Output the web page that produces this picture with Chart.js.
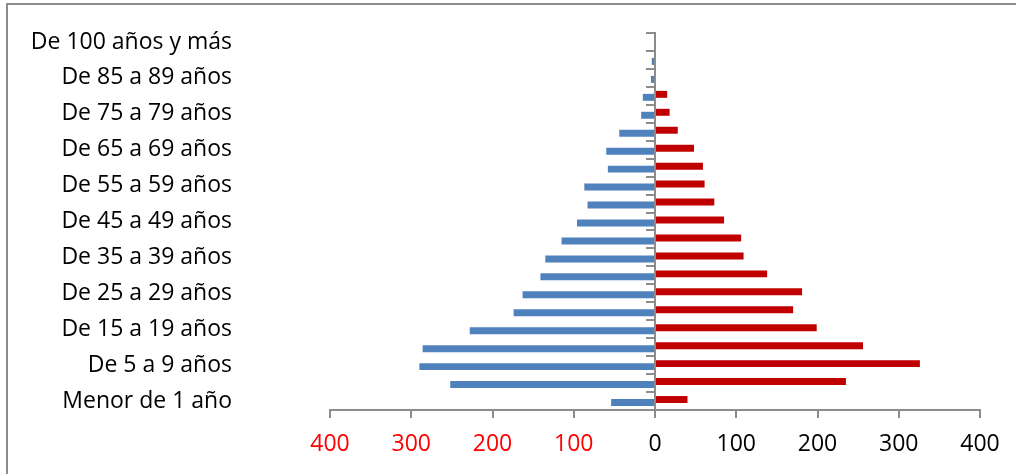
<!DOCTYPE html>
<html>
<head>
<meta charset="utf-8">
<script src="https://cdn.jsdelivr.net/npm/chart.js@4.4.1/dist/chart.umd.min.js"></script>
<style>
  html, body { margin: 0; padding: 0; background: #fff; overflow: hidden; }
  #wrap { position: relative; width: 1016px; height: 474px; }
  #frame { position: absolute; left: 6px; top: 3px; width: 1100px; height: 600px; border: 2px solid #8c8c8c; box-sizing: border-box; }
  #chart { position: absolute; left: 0; top: 0; }
</style>
</head>
<body>
<div id="wrap">
  <div id="frame"></div>
  <canvas id="chart" width="1016" height="474"></canvas>
</div>
<script>
// age groups, youngest first
const grupos = [
  'Menor de 1 año', 'De 1 a 4 años', 'De 5 a 9 años', 'De 10 a 14 años',
  'De 15 a 19 años', 'De 20 a 24 años', 'De 25 a 29 años', 'De 30 a 34 años',
  'De 35 a 39 años', 'De 40 a 44 años', 'De 45 a 49 años', 'De 50 a 54 años',
  'De 55 a 59 años', 'De 60 a 64 años', 'De 65 a 69 años', 'De 70 a 74 años',
  'De 75 a 79 años', 'De 80 a 84 años', 'De 85 a 89 años', 'De 90 a 94 años',
  'De 100 años y más'
];
// blue side (drawn to the left)
const hombres = [54, 252, 290, 286, 228, 174, 163, 141, 135, 115, 96, 83, 87, 58, 60, 44, 17, 15, 5, 4, 0];
// red side
const mujeres = [40, 235, 326, 256, 199, 170, 181, 138, 109, 106, 85, 73, 61, 59, 48, 28, 18, 15, 0, 0, 0];
const xTicks = [-400, -300, -200, -100, 0, 100, 200, 300, 400];

const gris = '#8c8c8c';
const fuente = { family: '"Open Sans", "Liberation Sans", sans-serif', size: 23 };

new Chart(document.getElementById('chart'), {
  type: 'bar',
  data: {
    labels: grupos,
    datasets: [
      {
        label: 'Mujeres',
        data: mujeres,
        backgroundColor: '#c00000',
        categoryPercentage: 0.333,
        barPercentage: 2.33,
      },
      {
        label: 'Hombres',
        data: hombres.map(v => -v),
        backgroundColor: '#4f81bd',
        categoryPercentage: 0.333,
        barPercentage: 2.33,
      }
    ]
  },
  options: {
    indexAxis: 'y',
    responsive: false,
    animation: false,
    layout: { padding: { top: 33, right: 36, left: 0, bottom: 0 } },
    plugins: {
      legend: { display: false },
      tooltip: { enabled: false }
    },
    scales: {
      x: {
        min: -400,
        max: 400,
        afterBuildTicks: (scale) => {
          scale.ticks = xTicks.map(v => ({ value: v }));
        },
        afterFit: (scale) => { scale.height = 64; },
        grid: {
          drawOnChartArea: false,
          tickLength: 8,
          color: gris,
          lineWidth: 2
        },
        border: { display: true, color: gris, width: 2 },
        ticks: {
          padding: 13,
          maxRotation: 0,
          font: fuente,
          color: (ctx) => ctx.tick.value < 0 ? '#ff0000' : '#000000',
          callback: (v) => Math.abs(v)
        }
      },
      y: {
        reverse: true,
        afterFit: (scale) => {
          scale.width = 330;
          // the big label gap must not eat into the plot height
          scale.paddingTop = 0;
          scale.paddingBottom = 0;
        },
        grid: { display: false, drawTicks: false },
        border: { display: false },
        ticks: {
          autoSkip: false,
          padding: 98,
          font: fuente,
          color: '#000000',
          callback: function (v, i) { return i % 2 === 0 ? this.getLabelForValue(v) : ''; }
        }
      },
      y2: {
        type: 'category',
        axis: 'y',
        position: { x: 0 },
        reverse: true,
        offset: true,
        grid: {
          offset: true,
          drawOnChartArea: false,
          tickLength: 8,
          color: gris,
          lineWidth: 2
        },
        border: { display: true, color: gris, width: 2 },
        ticks: { display: false }
      }
    }
  }
});
</script>
</body>
</html>
